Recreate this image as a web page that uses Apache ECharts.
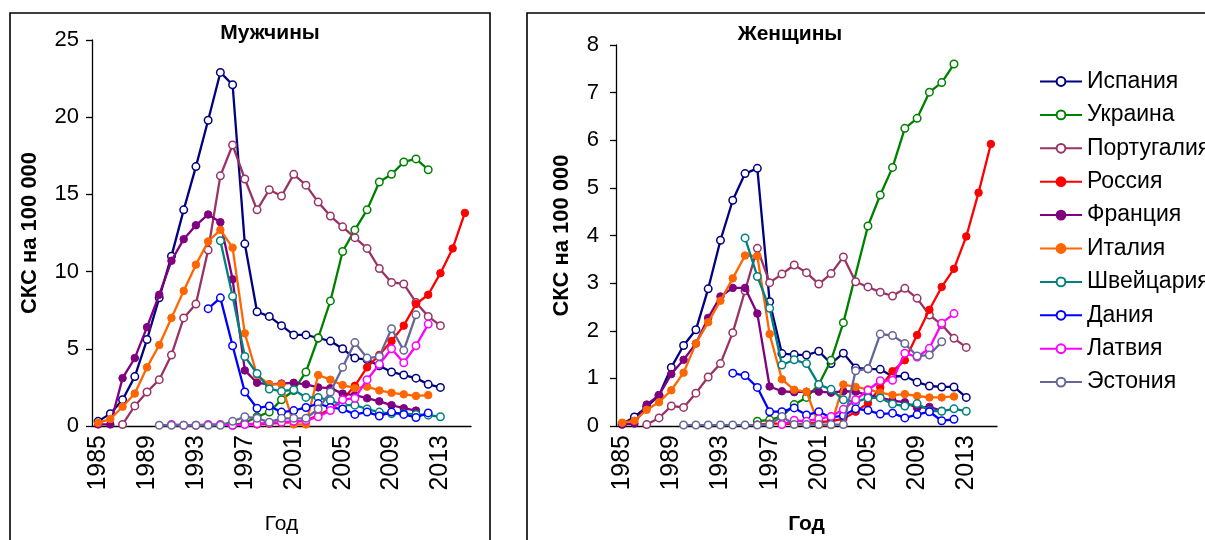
<!DOCTYPE html>
<html><head><meta charset="utf-8">
<script src="https://cdn.jsdelivr.net/npm/echarts@6/dist/echarts.min.js"></script>
<style>html,body{margin:0;padding:0;background:#fff;}#c{width:1205px;height:540px;}</style>
</head><body><div id="c"></div>
<script>
const years = ['1985','1986','1987','1988','1989','1990','1991','1992','1993','1994','1995','1996','1997','1998','1999','2000','2001','2002','2003','2004','2005','2006','2007','2008','2009','2010','2011','2012','2013','2014','2015'];
const countries = ['Испания','Украина','Португалия','Россия','Франция','Италия','Швейцария','Дания','Латвия','Эстония'];
const menTicks = [0,5,10,15,20,25];
const womenTicks = [0,1,2,3,4,5,6,7,8];

// Men
const spainM = [0.3,0.8,1.7,3.2,5.6,8.3,11.0,14.0,16.8,19.8,22.9,22.1,11.8,7.4,7.1,6.5,5.9,5.9,5.7,5.5,5.0,4.4,4.3,3.9,3.5,3.3,3.1,2.7,2.5,null,null];
const ukraineM = [null,null,null,null,null,null,null,null,null,null,null,0.05,0.2,0.6,0.9,1.7,2.3,3.5,5.7,8.1,11.3,12.7,14.0,15.8,16.3,17.1,17.3,16.6,null,null,null];
const portugalM = [null,null,0.1,1.3,2.2,3.0,4.6,7.0,7.9,11.4,16.2,18.2,16.0,14.0,15.3,14.9,16.3,15.6,14.5,13.6,12.9,12.2,11.5,10.2,9.3,9.2,8.0,7.1,6.5,null,null];
const russiaM = [null,null,null,null,null,null,null,null,null,null,null,null,0.1,0.1,0.15,0.2,0.25,0.35,0.7,1.1,1.7,2.6,3.8,4.6,5.5,6.5,7.9,8.5,9.9,11.5,13.8];
const franceM = [0.1,0.1,3.1,4.4,6.4,8.5,10.7,12.1,13.0,13.7,13.2,9.5,3.6,2.8,2.7,2.75,2.8,2.7,2.5,2.45,2.1,2.0,1.8,1.6,1.35,1.15,1.0,null,null,null,null];
const italyM = [0.2,0.45,1.25,2.1,3.8,5.25,7.0,8.75,10.45,11.95,12.7,11.55,6.0,3.3,2.7,2.7,0.1,0.1,3.3,3.0,2.65,2.45,2.55,2.3,2.15,2.05,1.95,2.0,null,null,null];
const swissM = [null,null,null,null,null,null,null,null,null,null,12.0,8.4,4.5,3.4,2.4,2.25,2.35,1.85,1.85,1.65,1.35,1.35,1.1,0.9,0.8,0.8,0.75,0.7,0.6,null,null];
const denmarkM = [null,null,null,null,null,null,null,null,null,7.6,8.3,5.2,2.2,1.15,1.3,0.9,1.0,1.2,1.45,1.2,1.1,0.75,0.9,0.65,0.9,0.75,0.55,0.85,null,null,null];
const latviaM = [null,null,null,null,null,null,0.1,0.05,0.05,0.1,0.1,0.05,0.1,0.15,0.2,0.25,0.3,0.35,0.6,1.0,1.7,1.8,3.0,4.0,5.0,4.1,5.2,6.6,null,null,null];
const estoniaM = [null,null,null,null,null,0.05,0.05,0.05,0.05,0.05,0.05,0.3,0.6,0.5,0.25,0.5,0.5,0.5,1.1,2.2,3.8,5.4,4.4,4.5,6.3,4.9,7.2,null,null,null,null];

// Women
const spainF = [0.04,0.19,0.4,0.64,1.23,1.69,2.02,2.88,3.9,4.74,5.3,5.41,2.61,1.52,1.5,1.49,1.57,1.31,1.53,1.22,1.2,1.19,1.04,1.05,0.92,0.84,0.82,0.82,0.6,null,null];
const ukraineF = [null,null,null,null,null,null,null,null,null,null,null,0.1,0.13,0.2,0.45,0.6,0.87,1.38,2.17,null,4.2,4.85,5.43,6.25,6.46,7.01,7.21,7.6,null,null,null];
const portugalF = [null,null,0.03,0.17,0.42,0.39,0.69,1.03,1.31,1.96,2.84,3.73,3.01,3.19,3.38,3.22,2.98,3.2,3.55,3.03,2.92,2.81,2.73,2.89,2.68,2.33,2.13,1.84,1.65,null,null];
const russiaF = [null,null,null,null,null,null,null,null,null,null,null,0.03,0.05,0.05,0.04,0.05,0.08,0.1,0.15,0.3,0.48,0.81,1.15,1.38,1.91,2.44,2.92,3.3,3.98,4.9,5.92];
const franceF = [0.03,0.05,0.45,0.65,1.09,1.39,1.73,2.27,2.72,2.9,2.9,2.36,0.83,0.73,0.71,0.72,0.72,0.7,0.73,0.72,0.65,0.6,0.53,0.5,0.38,0.4,0.32,null,null,null,null];
const italyF = [0.07,0.11,0.34,0.5,0.75,1.12,1.73,2.18,2.63,3.1,3.58,3.57,1.93,0.98,0.76,0.72,0.02,0.02,0.87,0.82,0.77,0.7,0.65,0.67,0.63,0.6,0.6,0.62,null,null,null];
const swissF = [null,null,null,null,null,null,null,null,null,null,3.95,3.14,2.47,1.28,1.39,1.31,0.87,0.77,0.55,0.5,0.59,0.59,0.46,0.42,0.47,0.32,0.31,0.36,0.31,null,null];
const denmarkF = [null,null,null,null,null,null,null,null,null,1.11,1.06,0.81,0.3,0.3,0.38,0.23,0.3,0.18,0.22,0.36,0.33,0.25,0.27,0.17,0.24,0.3,0.11,0.14,null,null,null];
const latviaF = [null,null,null,null,null,null,null,null,null,null,null,null,null,0.03,0.12,0.1,0.15,0.2,0.35,0.55,0.75,0.95,0.96,1.53,1.45,1.63,2.16,2.36,null,null,null];
const estoniaF = [null,null,null,null,null,0.02,0.02,0.02,0.02,0.02,0.02,0.02,0.03,0.2,0.03,0.03,0.03,0.03,0.03,1.16,1.2,1.93,1.9,1.73,1.47,1.49,1.77,null,null,null,null];

const menData = [spainM, ukraineM, portugalM, russiaM, franceM, italyM, swissM, denmarkM, latviaM, estoniaM];
const womenData = [spainF, ukraineF, portugalF, russiaF, franceF, italyF, swissF, denmarkF, latviaF, estoniaF];
const colors = ['#000080','#008000','#993366','#FF0000','#800080','#FF6600','#008080','#0000FF','#FF00FF','#666699'];
const filled = [false,false,false,true,true,true,false,false,false,false];

const FONT = '"Liberation Sans", Arial, sans-serif';
const NARROW = '"Liberation Sans Narrow", "Arial Narrow", "Liberation Sans", Arial, sans-serif';

function mkSeries(data, idx) {
  return data.map((arr, i) => ({
    name: countries[i],
    type: 'line',
    xAxisIndex: idx, yAxisIndex: idx,
    data: arr,
    connectNulls: true,
    symbol: 'circle',
    symbolSize: 7.5,
    showAllSymbol: true,
    lineStyle: { color: colors[i], width: 2.3 },
    itemStyle: filled[i] ? { color: colors[i], borderColor: colors[i], borderWidth: 1 } : { color: '#ffffff', borderColor: colors[i], borderWidth: 1.5 },
    emphasis: { disabled: true },
    z: 2 + i
  }));
}

function xAx(gi, nameBold) {
  return {
    type: 'category', gridIndex: gi, data: years, boundaryGap: true,
    axisLine: { lineStyle: { color: '#000', width: 1.3 } },
    axisTick: { interval: 0, length: 6, lineStyle: { color: '#000', width: 1.3 } },
    axisLabel: { interval: 3, rotate: 90, color: '#000', fontFamily: FONT, fontSize: 25, margin: 9 },
    name: 'Год', nameLocation: 'middle', nameGap: 88,
    nameTextStyle: { color: '#000', fontFamily: FONT, fontSize: 21, fontWeight: nameBold ? 'bold' : 'normal' },
    splitLine: { show: false }
  };
}
function yAx(gi, ticks, gap, margin) {
  return {
    type: 'value', gridIndex: gi, min: ticks[0], max: ticks[ticks.length - 1], interval: ticks[1] - ticks[0],
    axisLine: { show: true, lineStyle: { color: '#000', width: 1.3 } },
    axisTick: { show: true, length: 6, lineStyle: { color: '#000', width: 1.3 } },
    axisLabel: { color: '#000', fontFamily: NARROW, fontSize: 22, margin: margin },
    splitLine: { show: false },
    name: 'СКС на 100 000', nameLocation: 'middle', nameGap: gap, nameRotate: 90,
    nameTextStyle: { color: '#000', fontFamily: FONT, fontSize: 22, fontWeight: 'bold' }
  };
}

const chart = echarts.init(document.getElementById('c'), null, { renderer: 'canvas' });
chart.setOption({
  animation: false,
  backgroundColor: '#fff',
  grid: [
    { left: 92, top: 40, width: 379, height: 397 },
    { left: 616, top: 45, width: 381, height: 395 }
  ],
  xAxis: [xAx(0, false), xAx(1, true)],
  yAxis: [yAx(0, menTicks, 51, 13), yAx(1, womenTicks, 43, 17)],
  legend: {
    orient: 'vertical', left: 1034, top: 65,
    data: countries,
    itemWidth: 42, itemHeight: 11, itemGap: 10.4,
    textStyle: { color: '#000', fontFamily: FONT, fontSize: 23, lineHeight: 23 },
    selectedMode: false
  },
  graphic: [
    { type: 'rect', shape: { x: 10, y: 13, width: 480, height: 540 }, style: { fill: 'none', stroke: '#000', lineWidth: 1.6 }, silent: true, z: 0 },
    { type: 'rect', shape: { x: 527, y: 13, width: 700, height: 540 }, style: { fill: 'none', stroke: '#000', lineWidth: 1.6 }, silent: true, z: 0 },
    { type: 'text', x: 270, y: 33, style: { text: 'Мужчины', font: 'bold 21px ' + FONT, fill: '#000', textAlign: 'center', textVerticalAlign: 'middle' }, z: 10 },
    { type: 'text', x: 790, y: 34, style: { text: 'Женщины', font: 'bold 21px ' + FONT, fill: '#000', textAlign: 'center', textVerticalAlign: 'middle' }, z: 10 }
  ],
  series: mkSeries(menData, 0).concat(mkSeries(womenData, 1))
});
</script></body></html>
